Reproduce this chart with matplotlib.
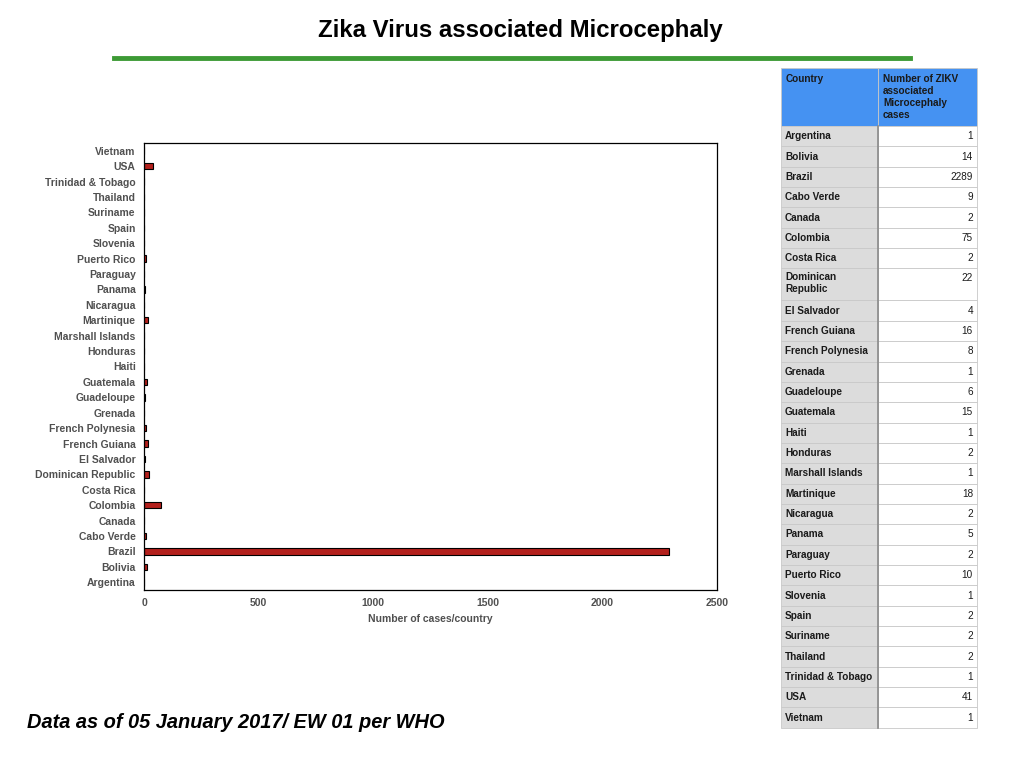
import matplotlib.pyplot as plt
from matplotlib.patches import Rectangle

plt.rcParams['font.family'] = ['Liberation Sans', 'DejaVu Sans']

countries = ['Argentina', 'Bolivia', 'Brazil', 'Cabo Verde', 'Canada', 'Colombia',
             'Costa Rica', 'Dominican Republic', 'El Salvador', 'French Guiana',
             'French Polynesia', 'Grenada', 'Guadeloupe', 'Guatemala', 'Haiti',
             'Honduras', 'Marshall Islands', 'Martinique', 'Nicaragua', 'Panama',
             'Paraguay', 'Puerto Rico', 'Slovenia', 'Spain', 'Suriname', 'Thailand',
             'Trinidad & Tobago', 'USA', 'Vietnam']
cases = [1, 14, 2289, 9, 2, 75, 2, 22, 4, 16, 8, 1, 6, 15, 1, 2, 1, 18, 2, 5,
         2, 10, 1, 2, 2, 2, 1, 41, 1]
xticks = [0, 500, 1000, 1500, 2000, 2500]

W, H = 1024, 768
fig = plt.figure(figsize=(10.24, 7.68), dpi=100)
fig.patch.set_facecolor('white')

# title + green rule
fig.text(520 / W, 1 - 31 / H, 'Zika Virus associated Microcephaly', ha='center',
         va='center', fontsize=17.3, fontweight='bold')
fig.add_artist(plt.Line2D([114 / W, 910 / W], [1 - 58 / H, 1 - 58 / H],
                          color='#3d9a35', lw=3.5))

# bar chart
ax = fig.add_axes([144 / W, 1 - 590 / H, (717 - 144) / W, (590 - 143) / H])
ypos = list(range(len(countries)))
ax.barh(ypos, cases, height=0.42, color='#b3201c', edgecolor='black', linewidth=0.8)
ax.set_ylim(-0.5, len(countries) - 0.5)
ax.set_xlim(0, 2500)
ax.set_yticks(ypos)
ax.set_yticklabels(countries, fontsize=7.5, fontweight='bold', color='#505050')
ax.set_xticks(xticks)
ax.set_xticklabels([str(t) for t in xticks], fontsize=7.5, fontweight='bold',
                   color='#505050')
ax.tick_params(length=0, pad=6)
ax.set_xlabel('Number of cases/country', fontsize=7.5, fontweight='bold',
              color='#505050', labelpad=4)
for s in ax.spines.values():
    s.set_linewidth(0.9)

# table
x0, x1, x2 = 781, 878, 977
top = 68
head_h = 58
row_h = 20.35
tall_h = 32
fs = 7.2

def rect(x, y, w, h, fc):
    fig.add_artist(Rectangle((x / W, 1 - (y + h) / H), w / W, h / H,
                             transform=fig.transFigure, facecolor=fc,
                             edgecolor='#c8c8c8', linewidth=0.6))

rect(x0, top, x1 - x0, head_h, '#4592f2')
rect(x1, top, x2 - x1, head_h, '#4592f2')
fig.text((x0 + 5) / W, 1 - (top + 6) / H, 'Country', fontsize=fs,
         fontweight='bold', color='#1a1a1a', va='top')
fig.text((x1 + 5) / W, 1 - (top + 6) / H,
         'Number of ZIKV\nassociated\nMicrocephaly\ncases', fontsize=fs,
         fontweight='bold', color='#1a1a1a', va='top', linespacing=1.25)

y = top + head_h
for name, val in zip(countries, cases):
    h = tall_h if name == 'Dominican Republic' else row_h
    rect(x0, y, x1 - x0, h, '#dcdcdc')
    rect(x1, y, x2 - x1, h, 'white')
    label = 'Dominican\nRepublic' if name == 'Dominican Republic' else name
    if h == tall_h:
        ty, va = 1 - (y + 4) / H, 'top'
    else:
        ty, va = 1 - (y + h / 2) / H, 'center'
    fig.text((x0 + 4) / W, ty, label, fontsize=fs, fontweight='bold',
             color='#1a1a1a', va=va, linespacing=1.25)
    vy = 1 - (y + 10) / H if h == tall_h else ty
    fig.text((x2 - 4) / W, vy, str(val), fontsize=fs, color='#1a1a1a',
             va='center', ha='right')
    y += h

fig.add_artist(plt.Line2D([x1 / W, x1 / W], [1 - (top + head_h) / H, 1 - y / H],
                          color='#8a8a8a', lw=1.2))

# footnote
fig.text(27 / W, 1 - 723 / H, 'Data as of 05 January 2017/ EW 01 per WHO',
         fontsize=14.4, fontweight='bold', style='italic', va='center')

fig.savefig('out.png', dpi=100)
